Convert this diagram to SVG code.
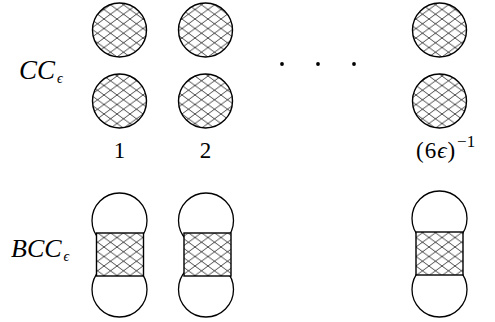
<svg xmlns="http://www.w3.org/2000/svg" width="495" height="322" viewBox="0 0 495 322">
<defs>
<pattern id="hatch" patternUnits="userSpaceOnUse" width="13" height="9.5" x="0" y="0">
<path d="M0,0 L13,9.5 M0,9.5 L13,0" stroke="#1a1a1a" stroke-width="0.8" fill="none"/>
</pattern>
</defs>
<style>
.disk{fill:url(#hatch);stroke:#000;stroke-width:1.4}
.bulb{fill:#fff;stroke:#000;stroke-width:1.3}
.neck{fill:url(#hatch);stroke:#000;stroke-width:1.4}
.neckbg{fill:#fff;stroke:none}
</style>
<rect width="495" height="322" fill="#fff"/>
<g id="label-cc" font-family="Liberation Serif, DejaVu Serif, serif" font-style="italic" fill="#000"><text x="19" y="79" font-size="27">CC<tspan dy="4" dx="2" font-size="14">ϵ</tspan></text></g>
<g id="label-bcc" font-family="Liberation Serif, DejaVu Serif, serif" font-style="italic" fill="#000"><text x="11" y="257" font-size="26">BCC<tspan dy="4" dx="2" font-size="14">ϵ</tspan></text></g>
<g id="col1-top"><circle class="disk" cx="119.5" cy="30" r="27"/></g>
<g id="col1-bottom"><circle class="disk" cx="119.5" cy="101" r="27"/></g>
<g id="col2-top"><circle class="disk" cx="205.5" cy="30" r="27"/></g>
<g id="col2-bottom"><circle class="disk" cx="205.5" cy="101" r="27"/></g>
<g id="col3-top"><circle class="disk" cx="439.5" cy="30" r="27"/></g>
<g id="col3-bottom"><circle class="disk" cx="439.5" cy="101" r="27"/></g>
<g id="dots" fill="#000"><circle cx="282" cy="64" r="1.9"/><circle cx="318" cy="64" r="1.9"/><circle cx="354" cy="64" r="1.9"/></g>
<g id="idx1" font-family="Liberation Serif, DejaVu Serif, serif" font-size="23" fill="#000"><text x="119.5" y="158" text-anchor="middle">1</text></g>
<g id="idx2" font-family="Liberation Serif, DejaVu Serif, serif" font-size="23" fill="#000"><text x="205.5" y="158" text-anchor="middle">2</text></g>
<g id="idx3" font-family="Liberation Serif, DejaVu Serif, serif" font-size="23" fill="#000"><text x="416" y="158" letter-spacing="1">(6<tspan font-style="italic">ϵ</tspan>)<tspan dy="-11" dx="1" font-size="17" letter-spacing="0">−1</tspan></text></g>
<g id="bcc1"><circle class="bulb" cx="119.5" cy="220.5" r="27.5"/><circle class="bulb" cx="119.5" cy="289.5" r="27.5"/><rect class="neckbg" x="96.5" y="233" width="47" height="43"/><rect class="neck" x="96.5" y="233" width="47" height="43"/></g>
<g id="bcc2"><circle class="bulb" cx="206" cy="220.5" r="27.5"/><circle class="bulb" cx="206" cy="289.5" r="27.5"/><rect class="neckbg" x="184" y="233" width="47" height="43"/><rect class="neck" x="184" y="233" width="47" height="43"/></g>
<g id="bcc3"><circle class="bulb" cx="439.5" cy="218.5" r="27.5"/><circle class="bulb" cx="439.5" cy="289.5" r="27.5"/><rect class="neckbg" x="416" y="232" width="47" height="43"/><rect class="neck" x="416" y="232" width="47" height="43"/></g>
<g id="connectors"></g>
</svg>
